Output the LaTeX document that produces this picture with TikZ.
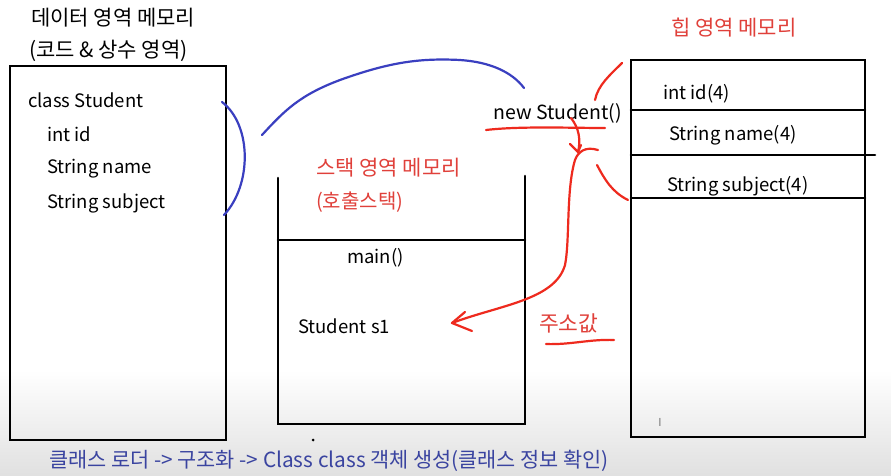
\documentclass[tikz,border=0pt]{standalone}
\usepackage{fontspec}
\setmainfont{Noto Sans CJK KR}
\usetikzlibrary{arrows.meta}
\definecolor{penred}{HTML}{EE2A1E}
\definecolor{penblue}{HTML}{3A3FC0}
\definecolor{txtred}{HTML}{E0403A}
\definecolor{txtblue}{HTML}{3A44A0}
\tikzset{
  box/.style={line width=2.6pt, line cap=round},
  lbl/.style={anchor=west, inner sep=0pt, font=\fontsize{18.5}{20}\selectfont},
  kor/.style={anchor=west, inner sep=0pt, font=\fontsize{21}{23}\selectfont},
  redlbl/.style={kor, text=txtred},
  redpen/.style={draw=penred, line width=2.2pt, line cap=round, line join=round},
  bluepen/.style={draw=penblue, line width=2.2pt, line cap=round},
}
\begin{document}
\begin{tikzpicture}[x=1pt,y=-1pt]
\useasboundingbox (0,0) rectangle (891,476);
\fill[white] (0,0) rectangle (891,476);
\shade[top color=white, bottom color=black!12] (0,370) rectangle (891,476);

% data area box
\draw[box] (10,66) rectangle (226,440);
% stack box
\draw[box] (278,178) -- (278,424) -- (525,424) -- (525,176);
\draw[box] (278,240) -- (525,240);
% heap box
\draw[box] (631,60) rectangle (865,437);
\draw[box] (631,110) -- (865,110);
\draw[box] (631,155) -- (875,155);
\draw[box] (631,198) -- (865,198);

% texts
\node[kor] (t1) at (31,18) {데이터 영역 메모리};
\node[kor] (t2) at (29,51) {(코드 \& 상수 영역)};
\node[lbl] (cs) at (28,100) {class Student};
\node[lbl] (cid) at (47,134) {int id};
\node[lbl] (cname) at (47,169) {String name};
\node[lbl] (csub) at (47,203) {String subject};
\node[redlbl] (st1) at (316,168) {스택 영역 메모리};
\node[redlbl, font=\fontsize{20}{22}\selectfont] (st2) at (316,202) {(호출스택)};
\node[lbl] (mainf) at (347,258) {main()};
\node[lbl] (s1) at (298,326) {Student s1};
\node[lbl, font=\fontsize{19.5}{21}\selectfont] (ns) at (493,113) {new Student()};
\node[redlbl] (hp) at (671,28) {힙 영역 메모리};
\node[lbl] (hid) at (663,94) {int id(4)};
\node[lbl] (hname) at (669,135) {String name(4)};
\node[lbl] (hsub) at (667,186) {String subject(4)};
\node[redlbl, font=\fontsize{21.5}{23}\selectfont] (addr) at (539,323) {주소값};
\node[anchor=center, inner sep=0pt, text=black!55, font=\fontsize{11}{12}\selectfont] (cur) at (660,422) {I};
\node[anchor=west, inner sep=0pt, text=txtblue, font=\fontsize{20.8}{23}\selectfont] (bot) at (49,461) {클래스 로더 -> 구조화 -> Class class 객체 생성(클래스 정보 확인)};
\fill (313,440) circle (1.5);

% blue pen strokes
\draw[bluepen] (222,102) .. controls (252,125) and (252,185) .. (224,215);
\draw[bluepen] (262,135) .. controls (285,110) and (300,95) .. (340,80)
  .. controls (390,62) and (420,58) .. (460,60)
  .. controls (490,62) and (512,72) .. (524,88);

% red pen strokes
\draw[redpen] (486,130) .. controls (520,126) and (570,128) .. (605,128);
\draw[redpen] (571,118) .. controls (579,128) and (581,140) .. (578,152);
\draw[redpen] (570,144) -- (578,152) -- (581,145);
\draw[redpen] (598,150) .. controls (585,146) and (578,152) .. (575,160)
  .. controls (566,190) and (570,240) .. (565,265)
  .. controls (555,300) and (500,305) .. (452,323);
\draw[redpen] (465,312) -- (452,323) -- (472,331);
\draw[redpen] (595,100) .. controls (598,85) and (610,75) .. (622,63);
\draw[redpen] (597,165) .. controls (605,180) and (612,192) .. (628,200);
\draw[redpen] (546,344) .. controls (570,345) and (590,339) .. (614,340);
\end{tikzpicture}
\end{document}
